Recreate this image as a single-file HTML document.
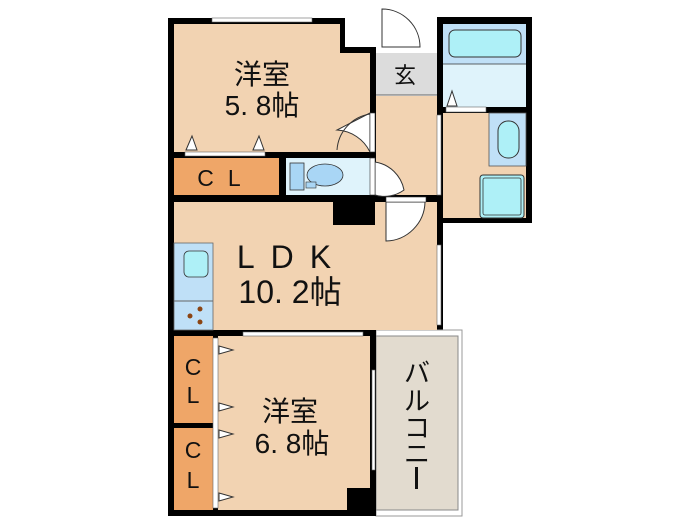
<!DOCTYPE html>
<html><head><meta charset="utf-8"><style>
html,body{margin:0;padding:0;background:#fff;}
svg{display:block}
text{font-family:"Liberation Sans","Noto Sans CJK JP",sans-serif;fill:#111}
</style></head><body>
<svg width="700" height="525" viewBox="0 0 700 525" xmlns="http://www.w3.org/2000/svg">
<path d="M168 18 H345 V47 H376 V195 H437 V17 H532 V223 H443 V330 H376 V516 H168 Z" fill="#000"/>
<rect x="376" y="330" width="86" height="186" fill="#fff" stroke="#999" stroke-width="1"/>
<rect x="376" y="336" width="82" height="174" fill="#e2dbcf" stroke="#888" stroke-width="1"/>
<rect x="370" y="330" width="6" height="186" fill="#000"/>
<path d="M174 24 H340 V53 H370 V152 H174 Z" fill="#f2d3b2"/>
<rect x="376" y="53" width="61" height="42" fill="#dcdcdc"/>
<line x1="376" y1="95" x2="437" y2="95" stroke="#666" stroke-width="1"/>
<rect x="376" y="96" width="61" height="99" fill="#f2d3b2"/>
<text x="405" y="83" font-size="22" text-anchor="middle">玄</text>
<rect x="382" y="47" width="40" height="4" fill="#fff"/>
<path d="M382 47 V9 A38 38 0 0 1 420 47 Z" fill="#fff" stroke="#333" stroke-width="1"/>
<rect x="212" y="18" width="100" height="4" fill="#fff" stroke="#666" stroke-width="0.6"/>
<path d="M370 113 V152 A39 39 0 0 0 337 130 Z" fill="#fff" stroke="#333" stroke-width="1"/>
<path d="M370 114 A39 39 0 0 0 337 150" fill="none" stroke="#333"/>
<rect x="370" y="113" width="5" height="39" fill="#fff" stroke="#333" stroke-width="0.6"/>
<rect x="185" y="152" width="80" height="4" fill="#fff" stroke="#666" stroke-width="0.6"/>
<path d="M186 150 L192 136 L197 150 Z" fill="#fff" stroke="#333"/>
<path d="M253 150 L259 136 L264 150 Z" fill="#fff" stroke="#333"/>
<rect x="174" y="158" width="105" height="37" fill="#efa668"/>
<text x="226" y="186" font-size="23" text-anchor="middle" letter-spacing="14">CL</text>
<rect x="286" y="158" width="84" height="37" fill="#dff3fb"/>
<rect x="290" y="163" width="14" height="27" fill="#a9d6f5" stroke="#333" stroke-width="0.8"/>
<ellipse cx="325" cy="175" rx="18" ry="11" fill="#a9d6f5" stroke="#333" stroke-width="0.8"/>
<rect x="306" y="182" width="10" height="6" fill="#a9d6f5" stroke="#333" stroke-width="0.6"/>
<path d="M375 162 V195 A33 33 0 0 0 404 190 A35 35 0 0 0 375 162 Z" fill="#fff" stroke="#333"/>
<rect x="370" y="158" width="5" height="37" fill="#fff" stroke="#333" stroke-width="0.6"/>
<rect x="174" y="202" width="263" height="128" fill="#f2d3b2"/>
<rect x="333" y="200" width="42" height="25" fill="#000"/>
<path d="M386 202 V241 A40 40 0 0 0 425 202 Z" fill="#fff" stroke="#333"/>
<rect x="386" y="197" width="40" height="5" fill="#fff" stroke="#333" stroke-width="0.6"/>
<rect x="437" y="245" width="4" height="80" fill="#fff" stroke="#666" stroke-width="0.6"/>
<rect x="174" y="243" width="39" height="87" fill="#bfe0f7" stroke="#666" stroke-width="0.8"/>
<line x1="174" y1="301" x2="213" y2="301" stroke="#666"/>
<rect x="184" y="251" width="24" height="26" rx="5" fill="#aef0f7" stroke="#333" stroke-width="0.8"/>
<circle cx="200" cy="309" r="2.5" fill="#8b4513"/><circle cx="190" cy="316" r="2.5" fill="#8b4513"/><circle cx="200" cy="322" r="2.5" fill="#8b4513"/>
<text x="292" y="268" font-size="32" text-anchor="middle" letter-spacing="16">LDK</text>
<text x="290" y="303" font-size="32" text-anchor="middle">10. 2帖</text>
<rect x="443" y="24" width="83" height="40" fill="#c0e0f7"/>
<rect x="443" y="64" width="83" height="43" fill="#dff3fb"/>
<line x1="443" y1="64" x2="526" y2="64" stroke="#333" stroke-width="0.8"/>
<rect x="449" y="30" width="72" height="27" rx="6" fill="#aef0f7" stroke="#333" stroke-width="1"/>
<rect x="446" y="107" width="40" height="5" fill="#fff" stroke="#666" stroke-width="0.6"/>
<path d="M447 106 L452 91 L457 106 Z" fill="#fff" stroke="#333"/>
<rect x="443" y="113" width="83" height="105" fill="#f2d3b2"/>
<rect x="489" y="113" width="37" height="53" fill="#c0e0f7" stroke="#555" stroke-width="0.8"/>
<rect x="498" y="121" width="21" height="37" rx="10" fill="#aef0f7" stroke="#333"/>
<rect x="480" y="175" width="44" height="43" rx="3" fill="#aef0f7" stroke="#333"/>
<rect x="483" y="178" width="38" height="37" rx="2" fill="none" stroke="#333" stroke-width="0.8"/>
<rect x="437" y="115" width="4" height="80" fill="#fff" stroke="#666" stroke-width="0.6"/>
<text x="262" y="84" font-size="28" text-anchor="middle">洋室</text>
<text x="262" y="115" font-size="28" text-anchor="middle">5. 8帖</text>
<rect x="174" y="336" width="39" height="87" fill="#efa668"/>
<rect x="174" y="428" width="39" height="82" fill="#efa668"/>
<text x="193" y="375" font-size="23" text-anchor="middle">C</text>
<text x="193" y="403" font-size="23" text-anchor="middle">L</text>
<text x="193" y="458" font-size="23" text-anchor="middle">C</text>
<text x="193" y="488" font-size="23" text-anchor="middle">L</text>
<rect x="218" y="336" width="152" height="174" fill="#f2d3b2"/>
<rect x="213" y="338" width="5" height="170" fill="#fff" stroke="#666" stroke-width="0.6"/>
<path d="M219 346 L233 350 L219 354 Z" fill="#fff" stroke="#333"/>
<path d="M219 403 L233 407 L219 411 Z" fill="#fff" stroke="#333"/>
<path d="M219 430 L233 434 L219 438 Z" fill="#fff" stroke="#333"/>
<path d="M219 493 L233 497 L219 501 Z" fill="#fff" stroke="#333"/>
<rect x="243" y="332" width="120" height="4" fill="#fff" stroke="#666" stroke-width="0.6"/>
<rect x="372" y="370" width="3" height="100" fill="#fff" stroke="#666" stroke-width="0.6"/>
<rect x="347" y="488" width="23" height="22" fill="#000"/>
<text x="290" y="421" font-size="28" text-anchor="middle">洋室</text>
<text x="292" y="453" font-size="28" text-anchor="middle">6. 8帖</text>
<text x="417" y="382" font-size="26" text-anchor="middle">バ</text>
<text x="417" y="410" font-size="26" text-anchor="middle">ル</text>
<text x="417" y="437" font-size="26" text-anchor="middle">コ</text>
<text x="417" y="463" font-size="26" text-anchor="middle">ニ</text>
<rect x="415" y="467" width="3" height="22" fill="#111"/>
</svg>
</body></html>
